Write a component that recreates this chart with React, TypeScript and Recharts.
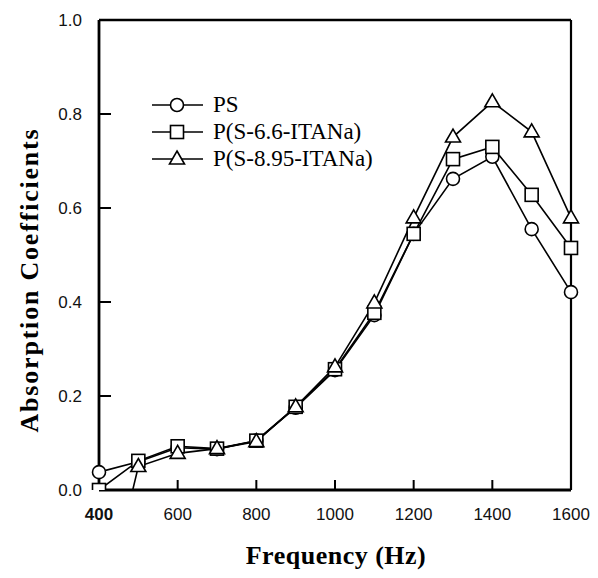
import { LineChart, Line, XAxis, YAxis, ReferenceLine } from "recharts";

const freqs = [400, 500, 600, 700, 800, 900, 1000, 1100, 1200, 1300, 1400, 1500, 1600];
const ps = [0.038, 0.06, 0.09, 0.087, 0.105, 0.175, 0.255, 0.372, 0.545, 0.662, 0.709, 0.555, 0.421];
const s66 = [0, 0.062, 0.093, 0.088, 0.105, 0.177, 0.257, 0.377, 0.545, 0.704, 0.73, 0.628, 0.515];
const s895 = [-0.3, 0.05, 0.078, 0.088, 0.103, 0.177, 0.262, 0.398, 0.579, 0.751, 0.826, 0.762, 0.579];
const xTicks = [400, 600, 800, 1000, 1200, 1400, 1600];
const yTicks = [0, 0.2, 0.4, 0.6, 0.8, 1.0];
const seriesNames = ["PS", "P(S-6.6-ITANa)", "P(S-8.95-ITANa)"];

const data = freqs.map((f, i) => ({ freq: f, ps: ps[i], s66: s66[i], s895: s895[i] }));

const serif = "'Liberation Serif', 'DejaVu Serif', serif";
const sans = "'Liberation Sans', Arial, sans-serif";

// chart box
const W = 598;
const H = 578;
const margin = { top: 20, right: 27, bottom: 58, left: 39 };
const yAxisW = 60;
const xAxisH = 30;
const plotL = margin.left + yAxisW;
const plotR = W - margin.right;
const plotT = margin.top;
const plotB = H - margin.bottom - xAxisH;
const sx = (v: number) => plotL + ((v - 400) / 1200) * (plotR - plotL);
const sy = (v: number) => plotB - v * (plotB - plotT);

function Marker({ kind, cx, cy }: { kind: string; cx: number; cy: number }) {
  if (kind === "circle") return <circle cx={cx} cy={cy} r={6.5} fill="#fff" stroke="#000" strokeWidth={1.6} />;
  if (kind === "square") return <rect x={cx - 6.5} y={cy - 6.5} width={13} height={13} fill="#fff" stroke="#000" strokeWidth={1.6} />;
  return <polygon points={`${cx},${cy - 8} ${cx + 7.5},${cy + 5} ${cx - 7.5},${cy + 5}`} fill="#fff" stroke="#000" strokeWidth={1.6} />;
}

const dotFor = (kind: string) => (props: any) => (
  <Marker key={`${kind}-${props.index}`} kind={kind} cx={props.cx} cy={props.cy} />
);

function YTick(props: any) {
  const { x, y, payload } = props;
  return (
    <text x={x - 17} y={y + 6} textAnchor="end" fontFamily={sans} fontSize={17} fill="#111">
      {Number(payload.value).toFixed(1)}
    </text>
  );
}

function XTick(props: any) {
  const { x, y, payload } = props;
  const v = payload.value;
  return (
    <text x={x} y={y + 30} textAnchor="middle" fontFamily={sans} fontSize={17} fontWeight={v === 400 ? 700 : 400} fill="#111">
      {v}
    </text>
  );
}

const kinds = ["circle", "square", "triangle"];
const innerY = yTicks.filter((t) => t > 0 && t < 1);
const innerX = xTicks.filter((t) => t > 400 && t < 1600);

export default function App() {
  return (
    <div style={{ position: "absolute", left: 0, top: 0, width: W, height: H, background: "#fff" }}>
      <LineChart width={W} height={H} data={data} margin={margin}>
        <XAxis
          type="number"
          dataKey="freq"
          domain={[400, 1600]}
          ticks={xTicks}
          tickSize={0}
          tickMargin={0}
          tick={<XTick />}
          axisLine={{ stroke: "#000", strokeWidth: 2.8 }}
          height={xAxisH}
        />
        <YAxis
          type="number"
          domain={[0, 1]}
          allowDataOverflow
          ticks={yTicks}
          tickSize={0}
          tickMargin={0}
          tick={<YTick />}
          axisLine={{ stroke: "#000", strokeWidth: 2.8 }}
          width={yAxisW}
        />
        <ReferenceLine y={1} stroke="#000" strokeWidth={2.4} ifOverflow="visible" />
        <ReferenceLine x={1600} stroke="#000" strokeWidth={2.2} ifOverflow="visible" />
        <Line dataKey="ps" stroke="#000" strokeWidth={1.6} dot={dotFor("circle")} isAnimationActive={false} />
        <Line dataKey="s66" stroke="#000" strokeWidth={1.6} dot={dotFor("square")} isAnimationActive={false} />
        <Line dataKey="s895" stroke="#000" strokeWidth={1.6} dot={dotFor("triangle")} isAnimationActive={false} />
      </LineChart>

      <svg style={{ position: "absolute", left: 0, top: 0 }} width={W} height={H}>
        {/* inward tick marks */}
        {innerY.map((t) => (
          <line key={`yt-${t}`} x1={plotL} x2={plotL + 12} y1={sy(t)} y2={sy(t)} stroke="#000" strokeWidth={2} />
        ))}
        {innerX.map((t) => (
          <line key={`xt-${t}`} x1={sx(t)} x2={sx(t)} y1={plotB} y2={plotB - 10} stroke="#000" strokeWidth={2} />
        ))}

        {seriesNames.map((name, i) => {
          const y = 105 + i * 27;
          return (
            <g key={name}>
              <line x1={152} x2={203} y1={y} y2={y} stroke="#000" strokeWidth={1.6} />
              <Marker kind={kinds[i]} cx={177} cy={y} />
              <text x={213} y={y + 7} fontFamily={serif} fontSize={23} fill="#000">
                {name}
              </text>
            </g>
          );
        })}
        <text
          transform="translate(38,280) rotate(-90)"
          textAnchor="middle"
          fontFamily={serif}
          fontWeight={700}
          fontSize={26}
          letterSpacing={1.8}
          fill="#000"
        >
          Absorption Coefficients
        </text>
        <text x={336} y={564} textAnchor="middle" fontFamily={serif} fontWeight={700} fontSize={26} letterSpacing={0.5} fill="#000">
          Frequency (Hz)
        </text>
      </svg>
    </div>
  );
}
